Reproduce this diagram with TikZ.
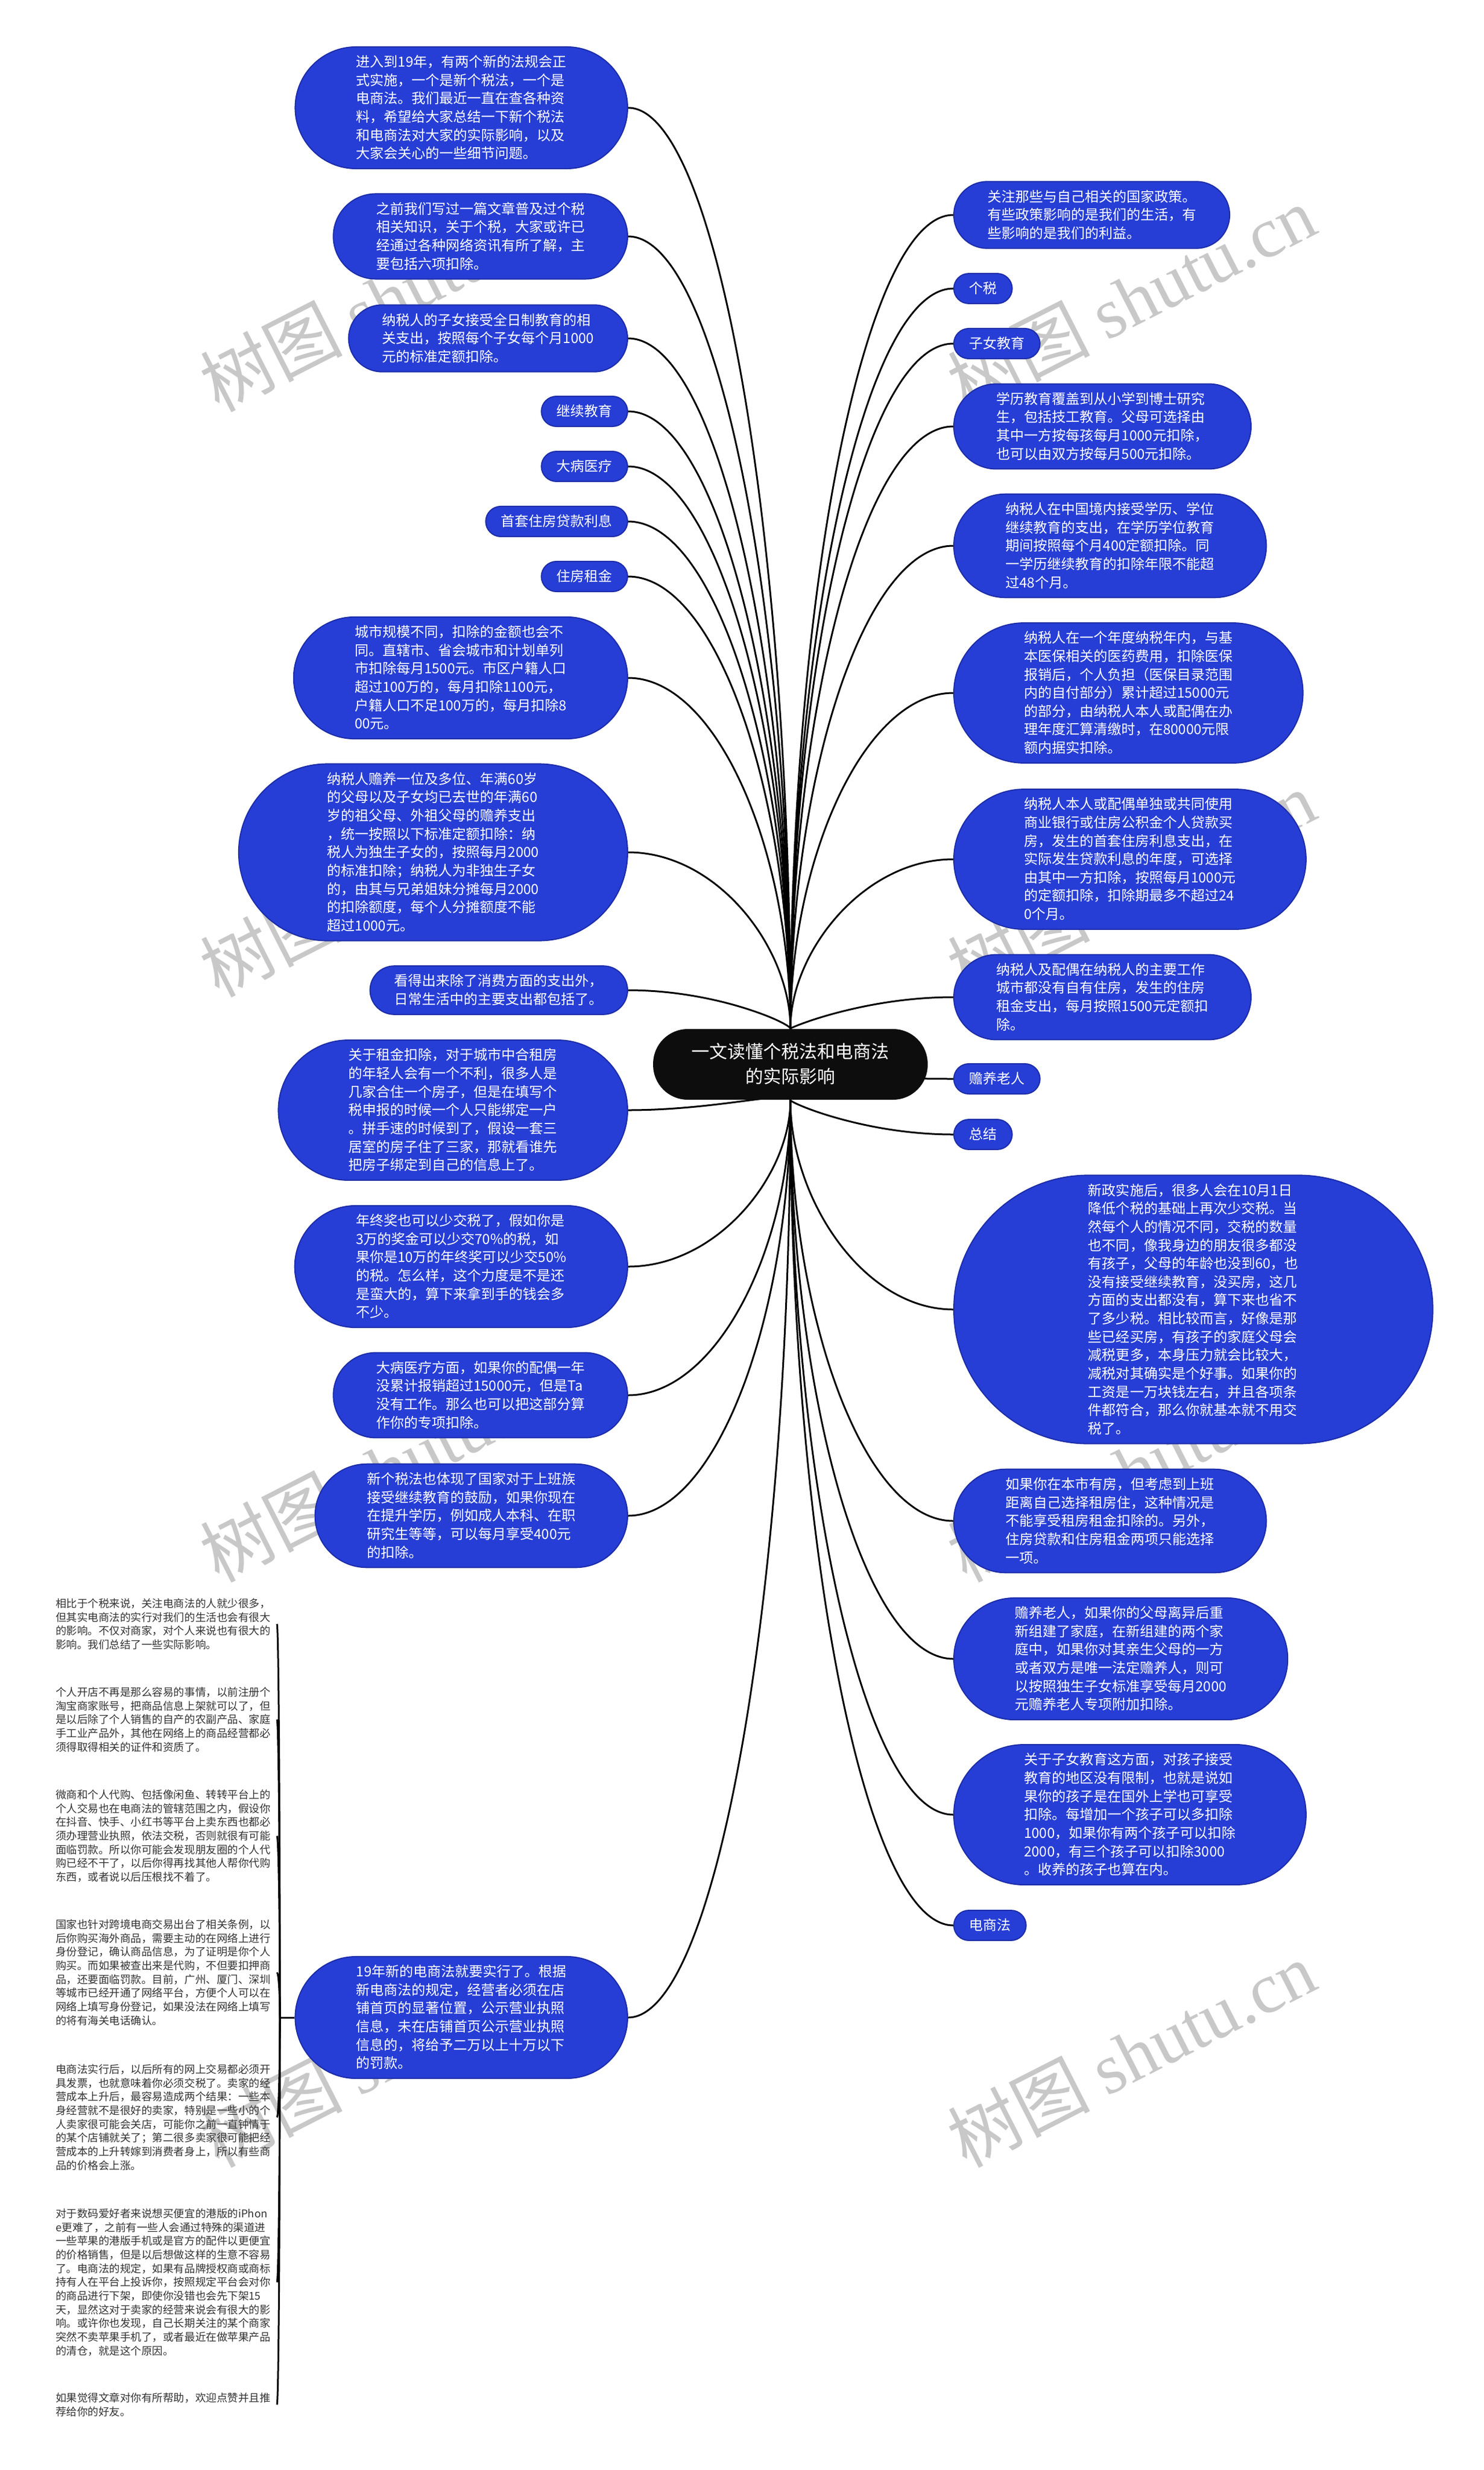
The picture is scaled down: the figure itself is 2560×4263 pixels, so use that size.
\documentclass[tikz,border=0pt]{standalone}
\usepackage{fontspec}
\setmainfont{Noto Sans CJK SC}
\newfontfamily\wmfont{Liberation Serif}
\usetikzlibrary{calc, backgrounds}

\definecolor{bubblue}{RGB}{38,62,214}
\definecolor{bubedge}{RGB}{28,44,168}
\definecolor{wmgray}{RGB}{200,200,200}

\newcommand\bstrut{\rule[-0.12em]{0pt}{0.88em}}

% bub=<number of lines>: pill whose round ends are half its height
\tikzset{
    bub/.style={rectangle, rounded corners={4.5pt*#1+2.9pt},
        fill=bubblue, draw=bubedge, line width=0.2mm, text=white, align=left,
        inner xsep={4.5pt*#1+3pt}, inner ysep=4.1pt, font=\fontsize{6.83}{9}\selectfont,
        execute at begin node=\bstrut, execute at end node=\bstrut},
    lbub/.style={bub=#1, anchor=east},
    rbub/.style={bub=#1, anchor=west},
    note/.style={anchor=north west, align=left, inner xsep=3pt, inner ysep=0pt,
        text=black!80, font=\fontsize{5.27}{6.74}\selectfont},
    link/.style={black, line width=0.3mm},
    wmark/.style={rotate=27, text=wmgray, font=\fontsize{35}{35}\selectfont}
}

\begin{document}
\begin{tikzpicture}[x=0.1mm, y=-0.1mm]
    \useasboundingbox (0,0) rectangle (2560,4263);

    % root
    \node[rectangle, rounded corners=17pt, fill=black!95, text=white, align=center,
        inner xsep=19pt, inner ysep=7pt, font=\fontsize{8.8}{12.2}\selectfont,
        execute at begin node=\bstrut, execute at end node=\bstrut]
        (cen) at (1364,1837) {一文读懂个税法和电商法\\的实际影响};

    % left branches
    \node[lbub=6] (intro) at (1084,186) {进入到19年，有两个新的法规会正\\式实施，一个是新个税法，一个是\\电商法。我们最近一直在查各种资\\料，希望给大家总结一下新个税法\\和电商法对大家的实际影响，以及\\大家会关心的一些细节问题。};
    \node[lbub=4] (before) at (1084,408) {之前我们写过一篇文章普及过个税\\相关知识，关于个税，大家或许已\\经通过各种网络资讯有所了解，主\\要包括六项扣除。};
    \node[lbub=3] (kids) at (1084,584) {纳税人的子女接受全日制教育的相\\关支出，按照每个子女每个月1000\\元的标准定额扣除。};
    \node[lbub=1] (jxjy) at (1084,710) {继续教育};
    \node[lbub=1] (dbyl) at (1084,805) {大病医疗};
    \node[lbub=1] (sfdk) at (1084,900) {首套住房贷款利息};
    \node[lbub=1] (zfzj) at (1084,995) {住房租金};
    \node[lbub=6] (city) at (1084,1170) {城市规模不同，扣除的金额也会不\\同。直辖市、省会城市和计划单列\\市扣除每月1500元。市区户籍人口\\超过100万的，每月扣除1100元，\\户籍人口不足100万的，每月扣除8\\00元。};
    \node[lbub=9] (elder) at (1084,1471) {纳税人赡养一位及多位、年满60岁\\的父母以及子女均已去世的年满60\\岁的祖父母、外祖父母的赡养支出\\，统一按照以下标准定额扣除：纳\\税人为独生子女的，按照每月2000\\的标准扣除；纳税人为非独生子女\\的，由其与兄弟姐妹分摊每月2000\\的扣除额度，每个人分摊额度不能\\超过1000元。};
    \node[lbub=2] (seen) at (1084,1709) {看得出来除了消费方面的支出外，\\日常生活中的主要支出都包括了。};
    \node[lbub=7] (rent) at (1084,1916) {关于租金扣除，对于城市中合租房\\的年轻人会有一个不利，很多人是\\几家合住一个房子，但是在填写个\\税申报的时候一个人只能绑定一户\\。拼手速的时候到了，假设一套三\\居室的房子住了三家，那就看谁先\\把房子绑定到自己的信息上了。};
    \node[lbub=6] (bonus) at (1084,2186) {年终奖也可以少交税了，假如你是\\3万的奖金可以少交70\%的税，如\\果你是10万的年终奖可以少交50\%\\的税。怎么样，这个力度是不是还\\是蛮大的，算下来拿到手的钱会多\\不少。};
    \node[lbub=4] (illness) at (1084,2408) {大病医疗方面，如果你的配偶一年\\没累计报销超过15000元，但是Ta\\没有工作。那么也可以把这部分算\\作你的专项扣除。};
    \node[lbub=5] (study) at (1084,2616) {新个税法也体现了国家对于上班族\\接受继续教育的鼓励，如果你现在\\在提升学历，例如成人本科、在职\\研究生等等，可以每月享受400元\\的扣除。};
    \node[lbub=6] (ecom) at (1084,3482) {19年新的电商法就要实行了。根据\\新电商法的规定，经营者必须在店\\铺首页的显著位置，公示营业执照\\信息，未在店铺首页公示营业执照\\信息的，将给予二万以上十万以下\\的罚款。};

    % right branches
    \node[rbub=3] (focus) at (1645,371) {关注那些与自己相关的国家政策。\\有些政策影响的是我们的生活，有\\些影响的是我们的利益。};
    \node[rbub=1] (gs) at (1645,498) {个税};
    \node[rbub=1] (znjy) at (1645,593) {子女教育};
    \node[rbub=4] (xljy) at (1645,736) {学历教育覆盖到从小学到博士研究\\生，包括技工教育。父母可选择由\\其中一方按每孩每月1000元扣除，\\也可以由双方按每月500元扣除。};
    \node[rbub=5] (jxdetail) at (1645,942) {纳税人在中国境内接受学历、学位\\继续教育的支出，在学历学位教育\\期间按照每个月400定额扣除。同\\一学历继续教育的扣除年限不能超\\过48个月。};
    \node[rbub=7] (medical) at (1645,1196) {纳税人在一个年度纳税年内，与基\\本医保相关的医药费用，扣除医保\\报销后，个人负担（医保目录范围\\内的自付部分）累计超过15000元\\的部分，由纳税人本人或配偶在办\\理年度汇算清缴时，在80000元限\\额内据实扣除。};
    \node[rbub=7] (loan) at (1645,1483) {纳税人本人或配偶单独或共同使用\\商业银行或住房公积金个人贷款买\\房，发生的首套住房利息支出，在\\实际发生贷款利息的年度，可选择\\由其中一方扣除，按照每月1000元\\的定额扣除，扣除期最多不超过24\\0个月。};
    \node[rbub=4] (rentdetail) at (1645,1721) {纳税人及配偶在纳税人的主要工作\\城市都没有自有住房，发生的住房\\租金支出，每月按照1500元定额扣\\除。};
    \node[rbub=1] (sylr) at (1645,1862) {赡养老人};
    \node[rbub=1] (zj) at (1645,1958) {总结};
    \node[rbub=14] (summary) at (1645,2260) {新政实施后，很多人会在10月1日\\降低个税的基础上再次少交税。当\\然每个人的情况不同，交税的数量\\也不同，像我身边的朋友很多都没\\有孩子，父母的年龄也没到60，也\\没有接受继续教育，没买房，这几\\方面的支出都没有，算下来也省不\\了多少税。相比较而言，好像是那\\些已经买房，有孩子的家庭父母会\\减税更多，本身压力就会比较大，\\减税对其确实是个好事。如果你的\\工资是一万块钱左右，并且各项条\\件都符合，那么你就基本就不用交\\税了。};
    \node[rbub=5] (ownhouse) at (1645,2625) {如果你在本市有房，但考虑到上班\\距离自己选择租房住，这种情况是\\不能享受租房租金扣除的。另外，\\住房贷款和住房租金两项只能选择\\一项。};
    \node[rbub=6] (parents) at (1645,2863) {赡养老人，如果你的父母离异后重\\新组建了家庭，在新组建的两个家\\庭中，如果你对其亲生父母的一方\\或者双方是唯一法定赡养人，则可\\以按照独生子女标准享受每月2000\\元赡养老人专项附加扣除。};
    \node[rbub=7] (edu) at (1645,3132) {关于子女教育这方面，对孩子接受\\教育的地区没有限制，也就是说如\\果你的孩子是在国外上学也可享受\\扣除。每增加一个孩子可以多扣除\\1000，如果你有两个孩子可以扣除\\2000，有三个孩子可以扣除3000\\。收养的孩子也算在内。};
    \node[rbub=1] (dsf) at (1645,3323) {电商法};

    % notes under the e-commerce bubble
    \coordinate (hub) at (483,3482);
    \node[note] (b1) at (85,2758) {相比于个税来说，关注电商法的人就少很多，\\但其实电商法的实行对我们的生活也会有很大\\的影响。不仅对商家，对个人来说也有很大的\\影响。我们总结了一些实际影响。};
    \node[note] (b2) at (85,2911) {个人开店不再是那么容易的事情，以前注册个\\淘宝商家账号，把商品信息上架就可以了，但\\是以后除了个人销售的自产的农副产品、家庭\\手工业产品外，其他在网络上的商品经营都必\\须得取得相关的证件和资质了。};
    \node[note] (b3) at (85,3088) {微商和个人代购、包括像闲鱼、转转平台上的\\个人交易也在电商法的管辖范围之内，假设你\\在抖音、快手、小红书等平台上卖东西也都必\\须办理营业执照，依法交税，否则就很有可能\\面临罚款。所以你可能会发现朋友圈的个人代\\购已经不干了，以后你得再找其他人帮你代购\\东西，或者说以后压根找不着了。};
    \node[note] (b4) at (85,3312) {国家也针对跨境电商交易出台了相关条例，以\\后你购买海外商品，需要主动的在网络上进行\\身份登记，确认商品信息，为了证明是你个人\\购买。而如果被查出来是代购，不但要扣押商\\品，还要面临罚款。目前，广州、厦门、深圳\\等城市已经开通了网络平台，方便个人可以在\\网络上填写身份登记，如果没法在网络上填写\\的将有海关电话确认。};
    \node[note] (b5) at (85,3562) {电商法实行后，以后所有的网上交易都必须开\\具发票，也就意味着你必须交税了。卖家的经\\营成本上升后，最容易造成两个结果：一些本\\身经营就不是很好的卖家，特别是一些小的个\\人卖家很可能会关店，可能你之前一直钟情于\\的某个店铺就关了；第二很多卖家很可能把经\\营成本的上升转嫁到消费者身上，所以有些商\\品的价格会上涨。};
    \node[note] (b6) at (85,3811) {对于数码爱好者来说想买便宜的港版的iPhon\\e更难了，之前有一些人会通过特殊的渠道进\\一些苹果的港版手机或是官方的配件以更便宜\\的价格销售，但是以后想做这样的生意不容易\\了。电商法的规定，如果有品牌授权商或商标\\持有人在平台上投诉你，按照规定平台会对你\\的商品进行下架，即使你没错也会先下架15\\天，显然这对于卖家的经营来说会有很大的影\\响。或许你也发现，自己长期关注的某个商家\\突然不卖苹果手机了，或者最近在做苹果产品\\的清仓，就是这个原因。};
    \node[note] (b7) at (85,4129) {如果觉得文章对你有所帮助，欢迎点赞并且推\\荐给你的好友。};

    \begin{scope}[on background layer]
        % watermarks
        \foreach \wx in {662,1952}
            \foreach \wy in {515,1525,2535,3545}
            {
                \node[wmark] at (\wx,\wy) {树图 {\wmfont shutu.cn}};
            }

        % connectors
        \foreach \kid in {intro,before,kids,jxjy,dbyl,sfdk,zfzj,city,elder,seen,rent,bonus,illness,study,ecom}
        {
            \draw[link] (cen) .. controls ($(cen)!0.55!(cen |- \kid.east)$) and ($(\kid.east)!0.55!(cen |- \kid.east)$) .. (\kid.east);
        }
        \foreach \kid in {focus,gs,znjy,xljy,jxdetail,medical,loan,rentdetail,sylr,zj,summary,ownhouse,parents,edu,dsf}
        {
            \draw[link] (cen) .. controls ($(cen)!0.55!(cen |- \kid.west)$) and ($(\kid.west)!0.55!(cen |- \kid.west)$) .. (\kid.west);
        }
        \draw[link] (ecom.west) -- (hub);
        \foreach \blk in {b1,b2,b3,b4,b5,b6,b7}
        {
            \draw[link] (hub) .. controls ($(hub)!0.55!(hub |- \blk.east)$) and ($(\blk.east)!0.55!(hub |- \blk.east)$) .. (\blk.east);
        }
    \end{scope}
\end{tikzpicture}
\end{document}
